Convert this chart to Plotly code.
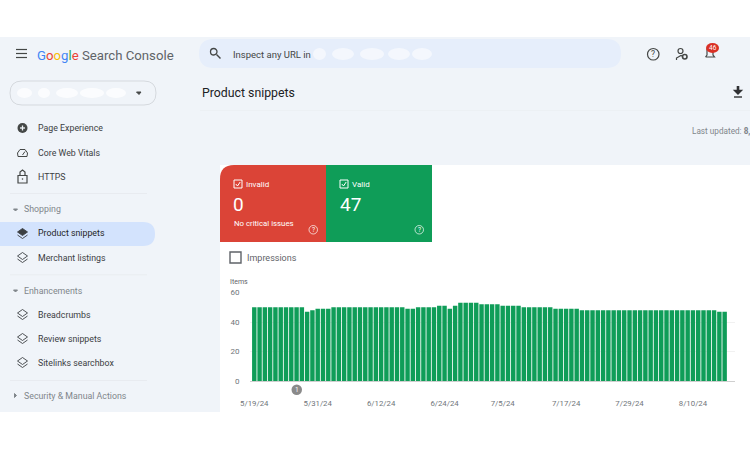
import plotly.graph_objects as go
from datetime import date, timedelta

WIDTH = 750
HEIGHT = 450
PANEL_BG = "#f0f4f9"
CARD_BG = "#ffffff"
TEXT_COLOR = "#3c4043"
MUTED = "#80868b"
GRID_COLOR = "#f1f1f1"
GREEN = "#0f9d58"
RED = "#db4437"
FONT = "Roboto, sans-serif"

# One bar per day
runs = [(50, 10), (47, 1), (48, 1), (49, 3), (50, 14), (49, 2), (50, 4), (51, 2),
        (49, 1), (51, 1), (53, 4), (52, 4), (51, 4), (50, 6), (49, 5), (48, 26), (47, 2)]
items = []
for value, count in runs:
    items += [value] * count
days = [date(2024, 5, 19) + timedelta(days=i) for i in range(len(items))]

tick_days = [date(2024, 5, 19), date(2024, 5, 31), date(2024, 6, 12), date(2024, 6, 24),
             date(2024, 7, 5), date(2024, 7, 17), date(2024, 7, 29), date(2024, 8, 10)]
tick_text = ["5/19/24", "5/31/24", "6/12/24", "6/24/24", "7/5/24", "7/17/24", "7/29/24", "8/10/24"]


def px(x):
    return x / WIDTH


def py(y):
    return 1 - y / HEIGHT


def box(x0, y0, x1, y1, fill, line=None, width=0):
    """Rectangle given in page pixels"""
    return dict(type="rect", xref="paper", yref="paper",
                x0=px(x0), y0=py(y0), x1=px(x1), y1=py(y1),
                fillcolor=fill, line=dict(color=line or fill, width=width), layer="below")


def oval(x0, y0, x1, y1, fill, line=None, width=0):
    """Circle given in page pixels"""
    shape = box(x0, y0, x1, y1, fill, line, width)
    shape["type"] = "circle"
    shape["layer"] = "above"
    return shape


def pill(x0, y0, x1, y1, fill, line=None, width=0, r=None, left=True, right=True):
    """Rounded rectangle given in page pixels"""
    r = r if r is not None else (y1 - y0) / 2
    X0, X1 = px(x0), px(x1)
    Y0, Y1 = py(y0), py(y1)
    rx, ry = r / WIDTH, r / HEIGHT
    path = ""
    if left:
        path += f"M {X0+rx} {Y0} "
    else:
        path += f"M {X0} {Y0} "
    if right:
        path += f"L {X1-rx} {Y0} Q {X1} {Y0} {X1} {Y0-ry} L {X1} {Y1+ry} Q {X1} {Y1} {X1-rx} {Y1} "
    else:
        path += f"L {X1} {Y0} L {X1} {Y1} "
    if left:
        path += f"L {X0+rx} {Y1} Q {X0} {Y1} {X0} {Y1+ry} L {X0} {Y0-ry} Q {X0} {Y0} {X0+rx} {Y0} Z"
    else:
        path += f"L {X0} {Y1} Z"
    return dict(type="path", xref="paper", yref="paper", path=path, fillcolor=fill,
                line=dict(color=line or fill, width=width), layer="below")


def top_round(x0, y0, x1, y1, fill, r=14):
    """Card with only its top left corner rounded"""
    rx, ry = r / WIDTH, r / HEIGHT
    path = (f"M {px(x0)} {py(y1)} L {px(x0)} {py(y0)-ry} Q {px(x0)} {py(y0)} {px(x0)+rx} {py(y0)} "
            f"L {px(x1)} {py(y0)} L {px(x1)} {py(y1)} Z")
    return dict(type="path", xref="paper", yref="paper", path=path, fillcolor=fill,
                line=dict(color=fill, width=0), layer="below")


def stroke(points, color=TEXT_COLOR, width=1.2, closed=False, fill=None):
    """Polyline given in page pixels, used for the small icons"""
    path = "M " + " L ".join(f"{px(x)} {py(y)}" for x, y in points)
    if closed:
        path += " Z"
    return dict(type="path", xref="paper", yref="paper", path=path,
                fillcolor=fill or "rgba(0,0,0,0)", line=dict(color=color, width=width), layer="above")


def label(x, y, text, size=9, color=TEXT_COLOR, anchor="left", weight=None):
    """Text given in page pixels, y is the middle of the line"""
    # annotations carry 2px of padding around the text
    if anchor == "left":
        x -= 2
    elif anchor == "right":
        x += 2
    return dict(xref="paper", yref="paper", x=px(x), y=py(y), text=text, showarrow=False,
                xanchor=anchor, yanchor="middle", align=anchor,
                font=dict(size=size, color=color, family=FONT, weight=weight))


def layers_icon(x, y, solid=False):
    color = "#3c4043"
    top = [(x - 5, y - 1.5), (x, y - 5), (x + 5, y - 1.5), (x, y + 2)]
    low = [(x - 5, y + 1.5), (x, y + 5), (x + 5, y + 1.5)]
    return [stroke(top, color, 0.9, True, color if solid else None), stroke(low, color, 0.9)]


shapes = [
    box(0, 37, WIDTH, 412, PANEL_BG),
    box(220, 165, WIDTH, 412, CARD_BG),
    # top bar
    pill(199, 39, 621, 68, "#e6eefb"),
    pill(10, 81, 156, 105, "#f0f4f9", "#d5d9de", 1),
    box(200, 110.5, WIDTH, 111, "#e8ebef"),
    # sidebar
    pill(0, 222, 155, 246, "#d3e3fd", left=False),
    box(10, 193, 147, 193.7, "#e6e9ed"),
    box(10, 274.5, 147, 275.2, "#e6e9ed"),
    box(10, 380, 147, 380.7, "#e6e9ed"),
    # status cards
    top_round(220, 165, 326, 242, RED),
    box(326, 165, 432, 242, GREEN),
]

# the property name and URL are blurred out in the picture
for x0, x1 in [(17, 32), (38, 50), (56, 78), (80, 104), (106, 126)]:
    shapes.append(oval(x0, 88, x1, 98, "rgba(255,255,255,0.75)"))
for x0, x1 in [(313, 326), (332, 354), (360, 384), (388, 410), (412, 432)]:
    shapes.append(oval(x0, 48, x1, 60, "rgba(255,255,255,0.55)"))

# menu icon
for y in [49.5, 53.5, 57.5]:
    shapes.append(stroke([(16, y), (27, y)], "#444746", 1.2))
# search icon
shapes.append(oval(210.5, 48.5, 217, 55, "rgba(0,0,0,0)", "#444746", 1.3))
shapes.append(stroke([(216.5, 54.5), (220.5, 58.5)], "#444746", 1.5))
# property menu arrow and section arrows
shapes.append(stroke([(136.5, 92), (141, 92), (139, 94.5)], "#444746", 1, True, "#444746"))
for y in [209.5, 290.5]:
    shapes.append(stroke([(13.5, y - 0.5), (17.5, y - 0.5), (15.5, y + 1.5)], MUTED, 1, True, MUTED))
shapes.append(stroke([(14.5, 393.5), (14.5, 397.5), (16.5, 395.5)], MUTED, 1, True, MUTED))
# help, settings, bell, download
shapes.append(oval(647.5, 48.5, 659, 60, "rgba(0,0,0,0)", "#444746", 1.2))
shapes.append(oval(678, 48.5, 683, 53.5, "rgba(0,0,0,0)", "#444746", 1.2))
shapes.append(stroke([(676.5, 60), (676.5, 58), (681, 55.5), (683, 56.5)], "#444746", 1.2))
shapes.append(oval(682.5, 54.5, 687, 59, "rgba(0,0,0,0)", "#444746", 1.6))
shapes.append(stroke([(705.5, 57), (707, 55), (707, 49), (713, 49), (713, 55), (714.5, 57), (705.5, 57)], "#444746", 1.2))
shapes.append(oval(706, 43, 719, 53, "#d93025"))
shapes.append(stroke([(738, 86), (738, 92)], "#303134", 2.6))
shapes.append(stroke([(734.5, 90.5), (738, 94), (741.5, 90.5)], "#303134", 1.4, True, "#303134"))
shapes.append(stroke([(734, 97), (742, 97)], "#303134", 1.4))
# sidebar icons
shapes.append(oval(17.5, 123, 27.5, 133, "#444746"))
shapes.append(stroke([(20, 128), (25, 128)], PANEL_BG, 1.3))
shapes.append(stroke([(22.5, 125.5), (22.5, 130.5)], PANEL_BG, 1.3))
shapes.append(stroke([(18, 156.5), (17.5, 153), (20, 149.5), (25, 149.5), (27.5, 153), (27, 156.5), (18, 156.5)], "#444746", 1))
shapes.append(stroke([(22.5, 155), (25, 151.5)], "#444746", 1))
shapes.append(box(18, 175.5, 27, 183, "rgba(0,0,0,0)", "#444746", 1.2))
shapes[-1]["layer"] = "above"
shapes.append(stroke([(20, 175.5), (20, 172), (22.5, 170), (25, 172), (25, 175.5)], "#444746", 1.2))
shapes.append(oval(21.7, 178.2, 23.3, 179.8, "#444746"))
for y, solid in [(233.5, True), (257.5, False), (314.5, False), (338.5, False), (362.5, False)]:
    shapes += layers_icon(22.5, y, solid)
# card checkboxes and help marks
for x0 in [234, 340]:
    shapes.append(box(x0, 180, x0 + 8, 188, "rgba(0,0,0,0)", "#ffffff", 1))
    shapes[-1]["layer"] = "above"
    shapes.append(stroke([(x0 + 1.8, 184), (x0 + 3.5, 186), (x0 + 6.2, 182)], "#ffffff", 1))
for x0 in [309, 415]:
    shapes.append(oval(x0, 225.5, x0 + 8.5, 234, "rgba(0,0,0,0)", "rgba(255,255,255,0.7)", 1))
# impressions checkbox
impressions = box(230, 252, 241, 263, "#ffffff", "#5f6368", 1.4)
impressions["layer"] = "above"
shapes.append(impressions)
# event marker below the axis
shapes.append(oval(291.5, 384.5, 302, 395, "#8a8a8a"))

annotations = [
    label(37, 55, "<span style='color:#4285f4'>G</span><span style='color:#ea4335'>o</span>"
                  "<span style='color:#fbbc05'>o</span><span style='color:#4285f4'>g</span>"
                  "<span style='color:#34a853'>l</span><span style='color:#ea4335'>e</span>"
                  "<span style='color:#5f6368'> Search Console</span>", 13.2),
    label(233, 54, "Inspect any URL in", 9.5, "#444746"),
    label(202, 93, "Product snippets", 12.3, "#202124"),
    label(750, 131, "Last updated: <b>8,</b>", 8.2, MUTED, "right"),
    label(712.5, 48, "46", 6.5, "#ffffff", "center"),
    label(653.2, 54.2, "?", 8.5, "#444746", "center"),
    label(38, 128, "Page Experience", 8.8),
    label(38, 152.5, "Core Web Vitals", 8.8),
    label(38, 176.5, "HTTPS", 8.8),
    label(23.5, 209.5, "Shopping", 8.8, MUTED),
    label(38, 233.5, "Product snippets", 8.8, "#1f1f1f"),
    label(38, 257.5, "Merchant listings", 8.8),
    label(23.5, 290.5, "Enhancements", 8.8, MUTED),
    label(38, 314.5, "Breadcrumbs", 8.8),
    label(38, 338.5, "Review snippets", 8.8),
    label(38, 362.5, "Sitelinks searchbox", 8.8),
    label(23.5, 395.5, "Security & Manual Actions", 8.8, MUTED),
    label(246, 184, "Invalid", 8, "#ffffff"),
    label(352, 184, "Valid", 8, "#ffffff"),
    label(233.5, 205, "0", 19, "#ffffff"),
    label(339.5, 205, "47", 19, "#ffffff"),
    label(234, 223, "No critical issues", 7.8, "#ffffff"),
    label(313.2, 229.8, "?", 6.5, "#ffffff", "center"),
    label(419.2, 229.8, "?", 6.5, "#ffffff", "center"),
    label(247, 257.5, "Impressions", 9, "#5f6368"),
    label(229.5, 282, "Items", 7, "#5f6368"),
    label(296.8, 389.8, "1", 6.5, "#ffffff", "center"),
]

fig = go.Figure()
fig.add_trace(go.Bar(x=days, y=items, marker_color=GREEN, marker_line_width=0, name="Valid"))

fig.update_layout(
    width=WIDTH,
    height=HEIGHT,
    paper_bgcolor="#ffffff",
    plot_bgcolor="rgba(0,0,0,0)",
    font=dict(color="#5f6368", family=FONT, size=8),
    margin=dict(l=0, r=0, t=0, b=0),
    showlegend=False,
    bargap=0.16,
    shapes=shapes,
    annotations=annotations,
)
fig.update_xaxes(
    automargin=False,
    domain=[px(250), px(735)],
    range=["2024-05-18 04:30", "2024-08-17 23:00"],
    tickmode="array",
    tickvals=tick_days,
    ticktext=tick_text,
    ticks="outside",
    ticklen=15,
    tickcolor="rgba(0,0,0,0)",
    tickfont=dict(size=7.8, color="#70757a"),
    showgrid=False,
    zeroline=False,
)
fig.update_yaxes(
    automargin=False,
    domain=[py(381), py(292.5)],
    range=[0, 60],
    tickvals=[0, 20, 40, 60],
    ticks="outside",
    ticklen=8,
    tickcolor="rgba(0,0,0,0)",
    tickfont=dict(size=8, color="#70757a"),
    gridcolor=GRID_COLOR,
    zeroline=True,
    zerolinecolor="#cfcfcf",
    zerolinewidth=1,
)

fig.write_html("out.html", post_script="document.body.style.margin='0';", config={"displayModeBar": False})
